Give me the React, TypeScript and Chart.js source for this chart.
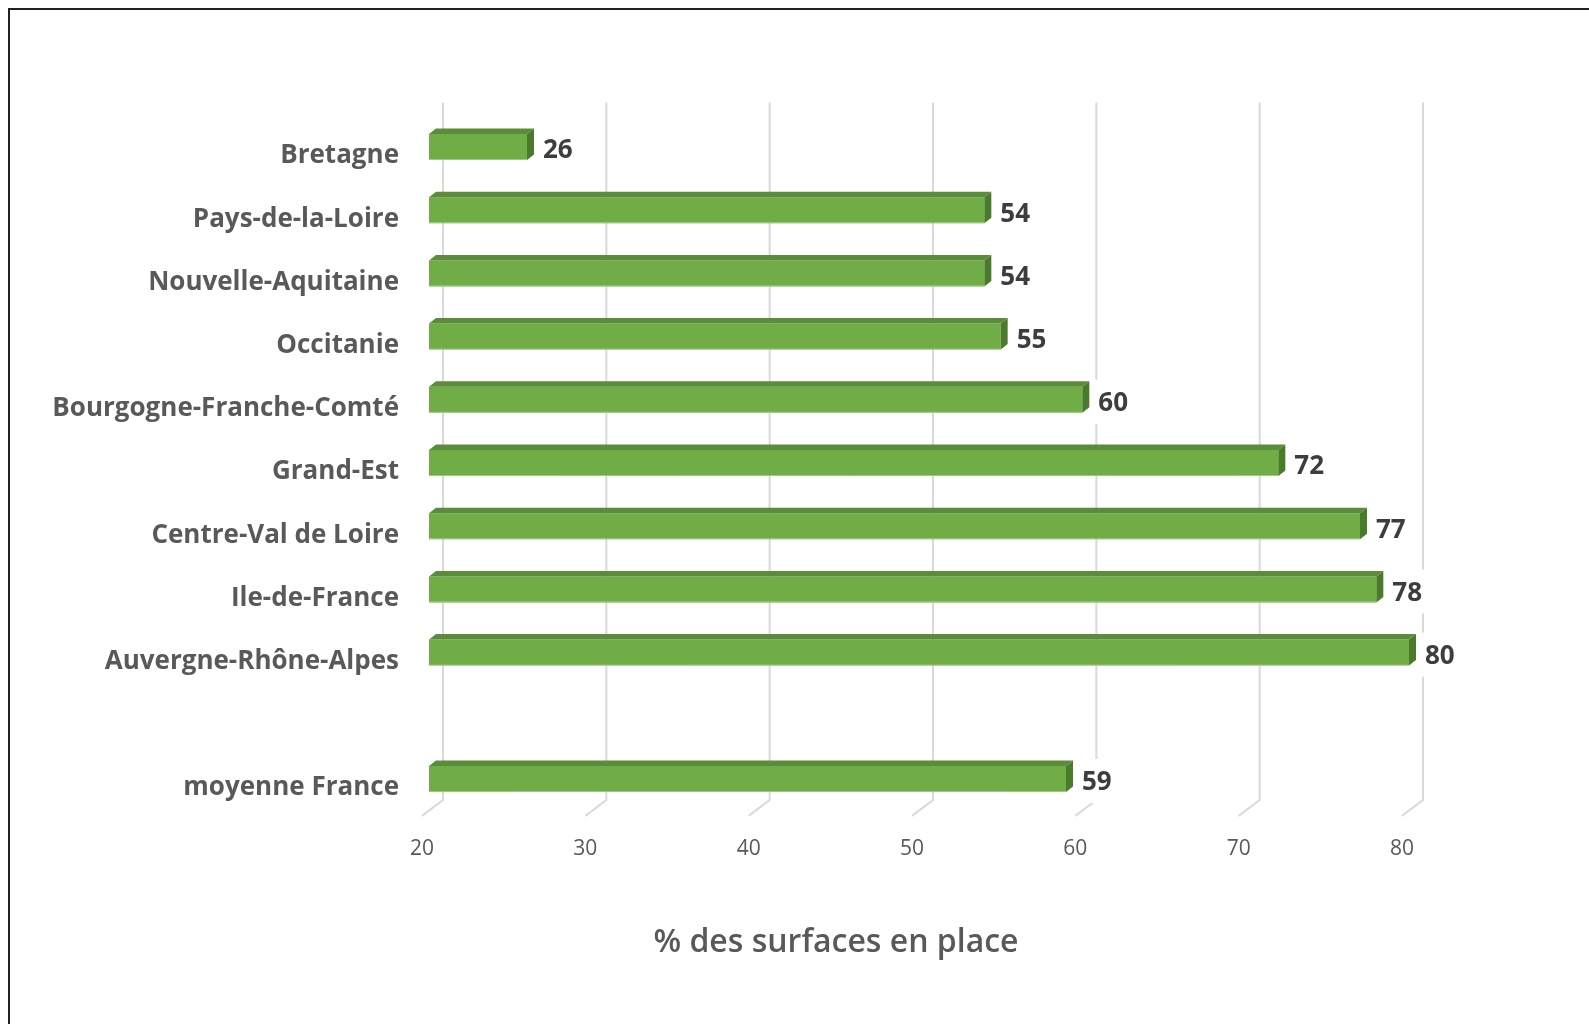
import React, { useEffect, useRef } from 'react';
import { Chart, registerables } from 'chart.js';

Chart.register(...registerables);

const categories = [
  'Bretagne',
  'Pays-de-la-Loire',
  'Nouvelle-Aquitaine',
  'Occitanie',
  'Bourgogne-Franche-Comté',
  'Grand-Est',
  'Centre-Val de Loire',
  'Ile-de-France',
  'Auvergne-Rhône-Alpes',
  '',
  'moyenne France',
];
const values: (number | null)[] = [26, 54, 54, 55, 60, 72, 77, 78, 80, null, 59];
const xTicks = [20, 30, 40, 50, 60, 70, 80];
const axisTitle = '% des surfaces en place';

const FONT = '"Open Sans", "Noto Sans", sans-serif';
const DEPTH_X = 7;
const DEPTH_Y = 5.5;
const WALL_X = 14;
const WALL_Y = 10.6;
const FRONT_X = -7;
const FRONT_Y = 5.3;

const threeD = {
  id: 'threeD',
  beforeDatasetsDraw(chart: any) {
    const { ctx, chartArea, scales } = chart;
    const x = scales.x;
    ctx.save();
    ctx.strokeStyle = '#d9d9d9';
    ctx.lineWidth = 2;
    xTicks.forEach((v) => {
      const px = x.getPixelForValue(v);
      const bx = px + WALL_X;
      ctx.beginPath();
      ctx.moveTo(bx, chartArea.top - 13);
      ctx.lineTo(bx, chartArea.bottom - WALL_Y);
      ctx.lineTo(px + FRONT_X, chartArea.bottom + FRONT_Y);
      ctx.stroke();
    });
    ctx.restore();
  },
  afterDatasetsDraw(chart: any) {
    const { ctx, chartArea } = chart;
    const meta = chart.getDatasetMeta(0);
    ctx.save();
    meta.data.forEach((bar: any, i: number) => {
      if (values[i] == null) return;
      const p = bar.getProps(['x', 'y', 'base', 'height'], true);
      const x0 = Math.max(p.base, chartArea.left);
      const x1 = p.x;
      const y0 = p.y - p.height / 2;
      const y1 = p.y + p.height / 2;
      // top face
      ctx.fillStyle = '#5B8C39';
      ctx.beginPath();
      ctx.moveTo(x0, y0);
      ctx.lineTo(x0 + DEPTH_X, y0 - DEPTH_Y);
      ctx.lineTo(x1 + DEPTH_X, y0 - DEPTH_Y);
      ctx.lineTo(x1, y0);
      ctx.closePath();
      ctx.fill();
      // side face
      ctx.fillStyle = '#4C7A2D';
      ctx.beginPath();
      ctx.moveTo(x1, y0);
      ctx.lineTo(x1 + DEPTH_X, y0 - DEPTH_Y);
      ctx.lineTo(x1 + DEPTH_X, y1 - DEPTH_Y);
      ctx.lineTo(x1, y1);
      ctx.closePath();
      ctx.fill();
      // bottom highlight
      ctx.strokeStyle = 'rgba(170,210,140,0.8)';
      ctx.lineWidth = 1;
      ctx.beginPath();
      ctx.moveTo(x0, y1 - 0.5);
      ctx.lineTo(x1, y1 - 0.5);
      ctx.stroke();
      // value label
      const txt = String(values[i]);
      ctx.font = `bold 26px ${FONT}`;
      const w = ctx.measureText(txt).width;
      const tx = x1 + DEPTH_X + 9;
      ctx.fillStyle = '#ffffff';
      ctx.fillRect(tx - 6, p.y - 20, w + 12, 44);
      ctx.fillStyle = '#3d3d3d';
      ctx.textAlign = 'left';
      ctx.textBaseline = 'middle';
      ctx.fillText(txt, tx, p.y + 4);
    });
    ctx.restore();
  },
  afterDraw(chart: any) {
    const { ctx } = chart;
    ctx.save();
    ctx.font = `600 32px ${FONT}`;
    ctx.fillStyle = '#595959';
    ctx.textAlign = 'center';
    ctx.textBaseline = 'middle';
    ctx.fillText(axisTitle, 836, 943);
    ctx.restore();
  },
};

export default function App() {
  const canvasRef = useRef<HTMLCanvasElement | null>(null);

  useEffect(() => {
    if (!canvasRef.current) return;
    const chart = new Chart(canvasRef.current, {
      type: 'bar',
      data: {
        labels: categories,
        datasets: [
          {
            data: values as any,
            backgroundColor: '#70AD47',
            borderWidth: 0,
            barPercentage: 0.411,
            categoryPercentage: 1,
          },
        ],
      },
      options: {
        indexAxis: 'y',
        animation: false,
        responsive: true,
        maintainAspectRatio: false,
        layout: { padding: { top: 115.4, right: 180, bottom: 0, left: 0 } },
        plugins: {
          legend: { display: false },
          tooltip: { enabled: false },
          title: { display: false },
        },
        scales: {
          x: {
            type: 'linear',
            min: 20,
            max: 80,
            grid: { display: false, drawTicks: false },
            border: { display: false },
            ticks: {
              stepSize: 10,
              padding: 26,
              labelOffset: -7,
              color: '#595959',
              font: { family: FONT, size: 21 },
            },
            afterFit: (s: any) => {
              s.height = 1024 - 810.6;
            },
          },
          y: {
            type: 'category',
            grid: { display: false, drawTicks: false },
            border: { display: false },
            ticks: {
              padding: 30,
              labelOffset: 9,
              color: '#595959',
              font: { family: FONT, size: 26, weight: 'bold' },
            },
            afterFit: (s: any) => {
              s.width = 429;
            },
          },
        },
      },
      plugins: [threeD],
    });
    return () => chart.destroy();
  }, []);

  return (
    <div
      style={{
        position: 'fixed',
        left: 0,
        top: 0,
        width: 1589,
        height: 1024,
        background: '#ffffff',
        overflow: 'hidden',
      }}
    >
      <div
        style={{
          position: 'absolute',
          left: 8,
          top: 8,
          width: 1600,
          height: 1040,
          borderLeft: '2px solid #222222',
          borderTop: '2px solid #222222',
          boxSizing: 'border-box',
        }}
      />
      <canvas ref={canvasRef} style={{ position: 'absolute', left: 0, top: 0 }} />
    </div>
  );
}
